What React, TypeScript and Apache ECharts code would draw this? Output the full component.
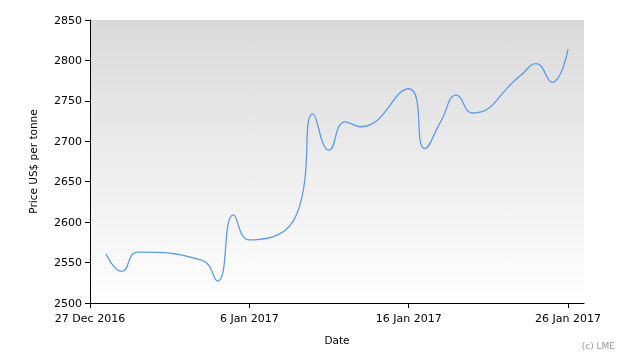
import React, { useEffect, useRef } from "react";
import * as echarts from "echarts";

const dates = [
  "2016-12-28", "2016-12-29", "2016-12-30", "2017-01-03", "2017-01-04", "2017-01-05",
  "2017-01-06", "2017-01-09", "2017-01-10", "2017-01-11", "2017-01-12", "2017-01-13",
  "2017-01-16", "2017-01-17", "2017-01-18", "2017-01-19", "2017-01-20", "2017-01-23",
  "2017-01-24", "2017-01-25", "2017-01-26",
];
const prices = [
  2561, 2539, 2563, 2553, 2527, 2609,
  2578, 2611, 2734, 2689, 2724, 2718,
  2765, 2691, 2724, 2757, 2735, 2781,
  2796, 2773, 2814,
];
const xStartDate = "2016-12-27";
const xEndDate = "2017-01-27";
const yTicks = [2500, 2550, 2600, 2650, 2700, 2750, 2800, 2850];
const monthNames = ["Jan", "Feb", "Mar", "Apr", "May", "Jun", "Jul", "Aug", "Sep", "Oct", "Nov", "Dec"];

const DAY = 86400000;
const toUTC = (s: string) => {
  const [y, m, d] = s.split("-").map(Number);
  return Date.UTC(y, m - 1, d);
};
const base = toUTC(xStartDate);
const dayOffset = (s: string) => Math.round((toUTC(s) - base) / DAY);
const fmtDay = (v: number) => {
  const d = new Date(base + v * DAY);
  return `${d.getUTCDate()} ${monthNames[d.getUTCMonth()]} ${d.getUTCFullYear()}`;
};

const FONT = "DejaVu Sans";

export default function App() {
  const ref = useRef<HTMLDivElement>(null);
  useEffect(() => {
    if (!ref.current) return;
    const chart = echarts.init(ref.current, null, { renderer: "svg" });
    chart.setOption({
      animation: false,
      grid: {
        left: 90,
        top: 20,
        right: 46,
        bottom: 57,
        show: true,
        borderWidth: 0,
        backgroundColor: new echarts.graphic.LinearGradient(0, 0, 0, 1, [
          { offset: 0, color: "#dadada" },
          { offset: 1, color: "#ffffff" },
        ]),
      },
      xAxis: {
        type: "value",
        min: 0,
        max: dayOffset(xEndDate),
        interval: 10,
        name: "Date",
        nameLocation: "middle",
        nameGap: 31,
        nameTextStyle: { fontFamily: FONT, fontSize: 10.5, color: "#000" },
        axisLine: { show: true, lineStyle: { color: "#000", width: 1 } },
        axisTick: { show: true, length: 5, lineStyle: { color: "#000" } },
        axisLabel: {
          formatter: (v: number) => fmtDay(v),
          fontFamily: FONT,
          fontSize: 11,
          color: "#000",
          margin: 10,
        },
        splitLine: { show: false },
      },
      yAxis: {
        type: "value",
        min: yTicks[0],
        max: yTicks[yTicks.length - 1],
        interval: 50,
        name: "Price US$ per tonne",
        nameLocation: "middle",
        nameGap: 52,
        nameTextStyle: { fontFamily: FONT, fontSize: 10.5, color: "#000" },
        axisLine: { show: true, lineStyle: { color: "#000", width: 1 } },
        axisTick: { show: true, length: 5, lineStyle: { color: "#000" } },
        axisLabel: {
          formatter: (v: number) => String(v),
          fontFamily: FONT,
          fontSize: 11,
          color: "#000",
          margin: 8,
        },
        splitLine: { show: false },
      },
      series: [
        {
          type: "line",
          data: dates.map((d, i) => [dayOffset(d), prices[i]]),
          smooth: 0.5,
          showSymbol: false,
          lineStyle: { color: "#5b9bf0", width: 1.3 },
        },
      ],
      graphic: [
        {
          type: "text",
          right: 15,
          top: 341,
          style: { text: "(c) LME", fontFamily: FONT, fontSize: 9, fill: "#999" },
        },
      ],
    });
    return () => chart.dispose();
  }, []);
  return (
    <div
      ref={ref}
      style={{ position: "fixed", left: 0, top: 0, width: 630, height: 360 }}
    />
  );
}
